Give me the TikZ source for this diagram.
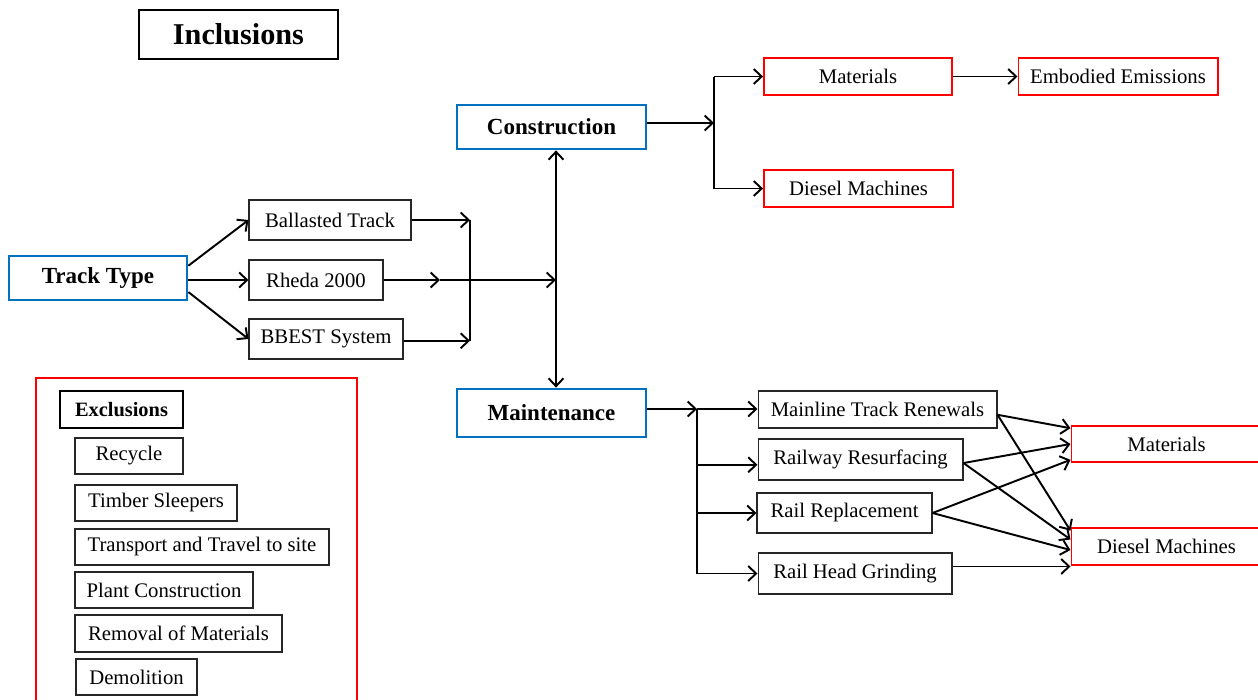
\documentclass[tikz,border=0pt]{standalone}
\usepackage{fontspec}
\setmainfont{Liberation Serif}
\usetikzlibrary{arrows.meta}

\definecolor{headblue}{RGB}{0,112,192}

\tikzset{
	>={Straight Barb[length=4.5pt,width=8.5pt]},
	phase/.style={draw=headblue, line width=1.6pt, inner sep=0pt, font=\fontsize{13.1}{15}\selectfont\bfseries},
	box/.style={draw=black!85, line width=0.6pt, inner sep=0pt, font=\fontsize{11.8}{14}\selectfont},
	redbox/.style={box, draw=red, line width=1.1pt},
	thinred/.style={box, draw=red, line width=0.6pt},
	link/.style={->, line width=1.1pt},
	bar/.style={line width=1.1pt},
}

\begin{document}
\begin{tikzpicture}[x=0.02cm, y=-0.02cm]
	
	\useasboundingbox (0,0) rectangle (1258,700);
	
	% titles
	\node[box, draw=black, line width=1.2pt, minimum width=3.98cm, minimum height=0.98cm, font=\fontsize{17.2}{20}\selectfont\bfseries] (incl) at (238.5,34.5) {Inclusions};
	
	\draw[red, line width=1.7pt] (36,378) rectangle (357,715);
	\node[box, draw=black, line width=1.6pt, minimum width=2.46cm, minimum height=0.74cm, font=\fontsize{11.6}{14}\selectfont\bfseries] (excl) at (121.5,409.5) {Exclusions};
	
	% exclusions
	\node[box, minimum width=2.16cm, minimum height=0.72cm] (recycle) at (129,456) {Recycle};
	\node[box, minimum width=3.24cm, minimum height=0.72cm] (timber) at (156,503) {Timber Sleepers};
	\node[box, minimum width=5.08cm, minimum height=0.72cm] (transport) at (202,547) {Transport and Travel to site};
	\node[box, minimum width=3.56cm, minimum height=0.72cm] (plant) at (164,590) {Plant Construction};
	\node[box, minimum width=4.14cm, minimum height=0.74cm] (removal) at (178.5,633.5) {Removal of Materials};
	\node[box, minimum width=2.42cm, minimum height=0.72cm] (demol) at (136.5,677) {Demolition};
	
	% track types
	\node[phase, minimum width=3.56cm, minimum height=0.88cm] (track) at (98,278) {Track Type};
	\node[box, minimum width=3.24cm, minimum height=0.8cm] (ballast) at (330,220) {Ballasted Track};
	\node[box, minimum width=2.68cm, minimum height=0.8cm] (rheda) at (316,280) {Rheda 2000};
	\node[box, minimum width=3.08cm, minimum height=0.8cm] (bbest) at (326,339) {BBEST System};
	
	% phases
	\node[phase, minimum width=3.78cm, minimum height=0.88cm] (constr) at (551.5,127) {Construction};
	\node[phase, minimum width=3.78cm, minimum height=0.96cm] (maint) at (551.5,413) {Maintenance};
	
	% construction side
	\node[redbox, minimum width=3.76cm, minimum height=0.74cm] (mattop) at (858,76.5) {Materials};
	\node[thinred, minimum width=4.0cm, minimum height=0.74cm] (embodied) at (1118,76.5) {Embodied Emissions};
	\node[redbox, minimum width=3.78cm, minimum height=0.74cm] (dieseltop) at (858.5,188.5) {Diesel Machines};
	
	% maintenance side
	\node[box, minimum width=4.78cm, minimum height=0.74cm] (mainline) at (877.5,409.5) {Mainline Track Renewals};
	\node[box, minimum width=4.1cm, minimum height=0.82cm] (resurf) at (860.5,459.5) {Railway Resurfacing};
	\node[box, minimum width=3.5cm, minimum height=0.8cm] (replace) at (844.5,513) {Rail Replacement};
	\node[box, minimum width=3.88cm, minimum height=0.82cm] (grind) at (855,573.5) {Rail Head Grinding};
	\node[thinred, minimum width=3.82cm, minimum height=0.72cm] (matright) at (1166.5,444) {Materials};
	\node[thinred, minimum width=3.82cm, minimum height=0.74cm] (dieselright) at (1166.5,546.5) {Diesel Machines};
	
	\coordinate (join) at (470,219);
	\coordinate (mid) at (440,280);
	\coordinate (hub) at (556,280);
	\coordinate (cfork) at (714,123);
	\coordinate (mfork) at (697,409);
	
	% track type links
	\draw[link] ([yshift=7pt]track.east) -- (ballast.west);
	\draw[link] (track.east |- rheda.west) -- (rheda.west);
	\draw[link] ([yshift=-8pt]track.east) -- (bbest.west);
	
	\draw[link] (ballast.east) -- (ballast.east -| join);
	\draw[link] ([yshift=-1pt]bbest.east) -- ([yshift=-1pt]bbest.east -| join);
	\draw[bar] (ballast.east -| join) -- ([yshift=-1pt]bbest.east -| join);
	
	\draw[link] (rheda.east) -- (mid);
	\draw[link] (mid) -- (hub);
	\draw[<->, line width=1.1pt] (hub |- constr.south) -- (hub |- maint.north);
	
	% construction links
	\draw[link] (constr.east |- cfork) -- (cfork);
	\draw[bar] (cfork |- mattop.west) -- (cfork |- dieseltop.west);
	\draw[link] (cfork |- mattop.west) -- (mattop.west);
	\draw[link] (cfork |- dieseltop.west) -- (dieseltop.west);
	\draw[link] (mattop) -- (embodied);
	
	% maintenance links
	\draw[link] (maint.east |- mfork) -- (mfork);
	\draw[bar] (mfork) -- (mfork |- grind.west);
	\draw[link] (mfork) -- (mfork -| mainline.west);
	\draw[link] ([yshift=-3pt]mfork |- resurf.west) -- ([yshift=-3pt]resurf.west);
	\draw[link] (mfork |- replace.west) -- (replace.west);
	\draw[link] (mfork |- grind.west) -- (grind.west);
	
	\draw[link] ([yshift=-3pt]mainline.east) -- ([yshift=9pt]matright.west);
	\draw[link] ([yshift=-3pt]mainline.east) -- ([yshift=9pt]dieselright.west);
	\draw[link] ([yshift=-2pt]resurf.east) -- ([yshift=0pt]matright.west);
	\draw[link] ([yshift=-2pt]resurf.east) -- ([yshift=4pt]dieselright.west);
	\draw[link] (replace.east) -- ([yshift=-9pt]matright.west);
	\draw[link] (replace.east) -- ([yshift=-2pt]dieselright.west);
	\draw[link] ([yshift=4pt]grind.east) -- ([yshift=4pt]grind.east -| dieselright.west);
	
\end{tikzpicture}
\end{document}
